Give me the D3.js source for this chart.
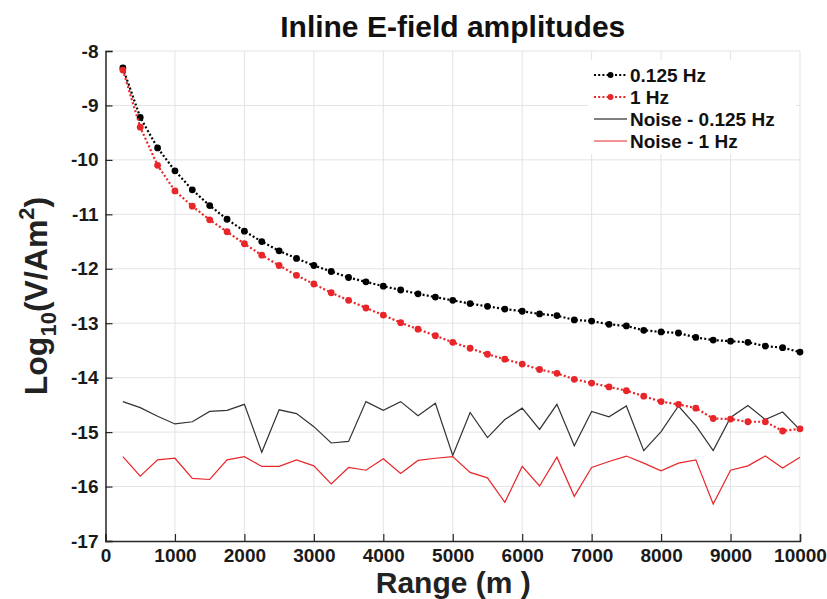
<!DOCTYPE html>
<html><head><meta charset="utf-8">
<script src="https://cdn.jsdelivr.net/npm/d3@7"></script>
<style>body{margin:0;background:#fff}text{font-family:"Liberation Sans",Arial,sans-serif;font-weight:bold}</style>
</head><body><svg id="c" width="827" height="599"></svg>
<script>
const ranges = d3.range(1, 41).map(i => i * 250);
const amp0125 = [-8.31,-9.22,-9.78,-10.20,-10.55,-10.84,-11.09,-11.31,-11.50,-11.67,-11.81,-11.94,-12.05,-12.16,-12.24,-12.32,-12.39,-12.46,-12.52,-12.58,-12.64,-12.69,-12.74,-12.78,-12.83,-12.86,-12.94,-12.96,-13.02,-13.05,-13.13,-13.16,-13.18,-13.26,-13.31,-13.33,-13.35,-13.42,-13.45,-13.53];
const amp1 = [-8.35,-9.40,-10.10,-10.57,-10.85,-11.10,-11.32,-11.54,-11.75,-11.94,-12.12,-12.28,-12.44,-12.58,-12.72,-12.85,-12.99,-13.11,-13.23,-13.35,-13.46,-13.57,-13.66,-13.75,-13.85,-13.92,-14.03,-14.10,-14.17,-14.24,-14.34,-14.44,-14.49,-14.56,-14.75,-14.76,-14.81,-14.81,-14.98,-14.94];
const noise0125 = [-14.44,-14.55,-14.71,-14.85,-14.81,-14.62,-14.60,-14.49,-15.37,-14.59,-14.66,-14.90,-15.20,-15.17,-14.44,-14.60,-14.44,-14.70,-14.47,-15.43,-14.64,-15.10,-14.77,-14.56,-14.95,-14.49,-15.25,-14.62,-14.72,-14.52,-15.34,-14.99,-14.52,-14.88,-15.34,-14.73,-14.51,-14.77,-14.63,-14.96];
const noise1 = [-15.45,-15.81,-15.51,-15.48,-15.85,-15.87,-15.51,-15.45,-15.63,-15.63,-15.51,-15.62,-15.95,-15.65,-15.70,-15.49,-15.76,-15.52,-15.48,-15.45,-15.74,-15.84,-16.29,-15.63,-15.99,-15.46,-16.18,-15.65,-15.54,-15.44,-15.57,-15.71,-15.57,-15.51,-16.32,-15.70,-15.62,-15.44,-15.66,-15.46];
const xTicks = d3.range(0, 10001, 1000);
const yTicks = d3.range(-17, -7, 1);
const legendLabels = ["0.125 Hz", "1 Hz", "Noise - 0.125 Hz", "Noise - 1 Hz"];

const RED = "#e8262a";
const svg = d3.select("#c");
const L = 105.5, R = 800, T = 51, B = 541;
const x = d3.scaleLinear().domain([0, 10000]).range([L, R]);
const y = d3.scaleLinear().domain([-17, -8]).range([B, T]);

// grid
const g = svg.append("g");
g.selectAll(".vx").data(xTicks.slice(1)).join("line")
  .attr("x1", d => x(d)).attr("x2", d => x(d)).attr("y1", T).attr("y2", B)
  .attr("stroke", "#e3e3e3").attr("stroke-width", 1);
g.selectAll(".hy").data(yTicks.slice(1)).join("line")
  .attr("y1", d => y(d)).attr("y2", d => y(d)).attr("x1", L).attr("x2", R)
  .attr("stroke", "#e3e3e3").attr("stroke-width", 1);

// axes
const xAxis = d3.axisBottom(x).tickValues(xTicks).tickSize(-7).tickPadding(8).tickFormat(d3.format("d"));
const yAxis = d3.axisLeft(y).tickValues(yTicks).tickSize(-7).tickPadding(7).tickFormat(d => d3.format("d")(d).replace("−", "-"));
const ax = svg.append("g").attr("transform", `translate(0,${B})`).call(xAxis);
const ay = svg.append("g").attr("transform", `translate(${L},0)`).call(yAxis);
[ax, ay].forEach(a => {
  a.select(".domain").attr("stroke", "#262626").attr("stroke-width", 1.5);
  a.selectAll(".tick line").attr("stroke", "#262626").attr("stroke-width", 1.2);
  a.selectAll(".tick text").attr("fill", "#1a1a1a").style("font-size", "19px").style("font-family", "Liberation Sans, Arial").style("font-weight", "bold");
});

const line = d3.line().x((d, i) => x(ranges[i])).y(d => y(d));
const plot = svg.append("g");

plot.append("path").datum(noise0125).attr("d", line).attr("fill", "none").attr("stroke", "#333").attr("stroke-width", 1.2);
plot.append("path").datum(noise1).attr("d", line).attr("fill", "none").attr("stroke", RED).attr("stroke-width", 1.2);

[[amp0125, "#000"], [amp1, RED]].forEach(([arr, col]) => {
  plot.append("path").datum(arr).attr("d", line).attr("fill", "none").attr("stroke", col)
    .attr("stroke-width", 2.2).attr("stroke-dasharray", "2,2.2");
  plot.selectAll(null).data(arr).join("circle")
    .attr("cx", (d, i) => x(ranges[i])).attr("cy", d => y(d)).attr("r", 3.4).attr("fill", col);
});

// legend
const lg = svg.append("g");
lg.append("rect").attr("x", 588).attr("y", 60).attr("width", 208).attr("height", 94).attr("fill", "#fff");
const legendStyles = [
  {col: "#000", dash: "2,2.2", w: 2, marker: true},
  {col: RED, dash: "2,2.2", w: 2, marker: true},
  {col: "#000", dash: null, w: 1, marker: false},
  {col: RED, dash: null, w: 1, marker: false}
];
const ly = [75, 97, 119, 141];
legendLabels.forEach((lab, i) => {
  const s = legendStyles[i];
  lg.append("line").attr("x1", 594).attr("x2", 627).attr("y1", ly[i]).attr("y2", ly[i])
    .attr("stroke", s.col).attr("stroke-width", s.w).attr("stroke-dasharray", s.dash);
  if (s.marker) lg.append("circle").attr("cx", 610.5).attr("cy", ly[i]).attr("r", 3).attr("fill", s.col);
  lg.append("text").attr("x", 630).attr("y", ly[i] + 7).attr("font-size", 19).attr("fill", "#111").text(lab);
});

// title and labels
svg.append("text").attr("x", (L + R) / 2).attr("y", 37).attr("text-anchor", "middle")
  .attr("font-size", 30).attr("fill", "#111").text("Inline E-field amplitudes");
svg.append("text").attr("x", (L + R) / 2 + 0.5).attr("y", 593).attr("text-anchor", "middle")
  .attr("font-size", 30).attr("fill", "#222").text("Range (m )");
const yl = svg.append("text").attr("transform", `translate(47,${(T + B) / 2}) rotate(-90)`)
  .attr("text-anchor", "middle").attr("font-size", 32).attr("fill", "#222");
yl.append("tspan").text("Log");
yl.append("tspan").attr("font-size", 22).attr("dy", 9).text("10");
yl.append("tspan").attr("dy", -9).text("(V/Am");
yl.append("tspan").attr("font-size", 22).attr("dy", -13).text("2");
yl.append("tspan").attr("dy", 13).text(")");
</script></body></html>
